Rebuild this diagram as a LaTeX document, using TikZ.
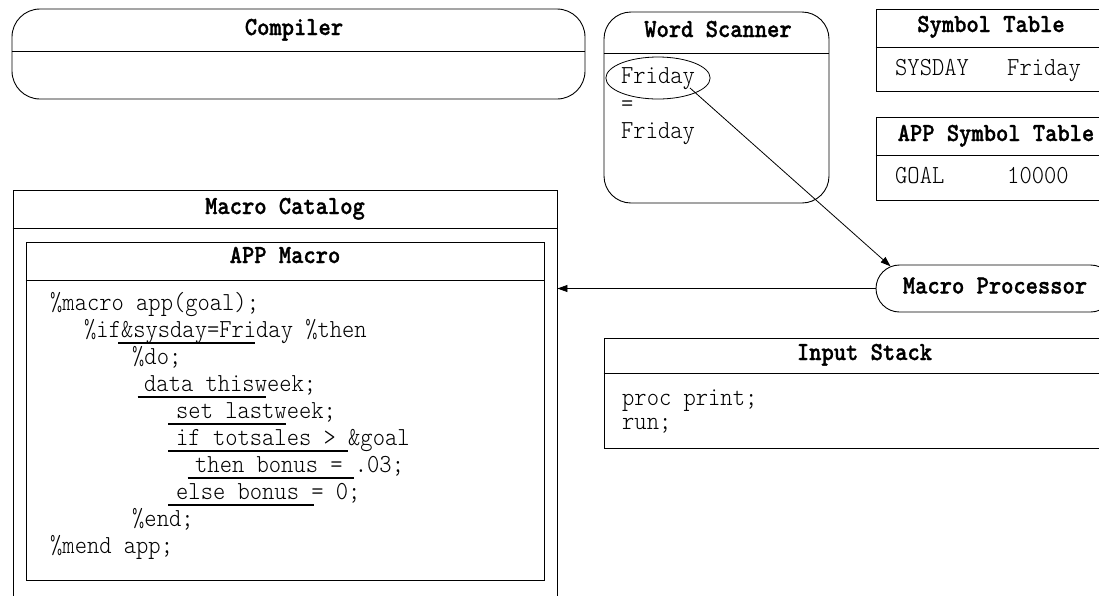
\documentclass[tikz,border=0pt]{standalone}
\usepackage{fontspec}
\usetikzlibrary{arrows.meta, shapes.geometric, shapes.misc}
\newfontfamily\codefont[FakeStretch = 0.9]{lmmonolt10-regular.otf}
\newfontfamily\headfont[FakeStretch = 0.9, FakeBold = 1.2]{lmmonolt10-bold.otf}

\begin{document}
\begin{tikzpicture}[
  x = 1pt, y = -1pt,
  panel/.style = {
    shape = rectangle,
    draw = black,
    line width = 0.9pt,
    inner sep = 0pt,
  },
  rpanel/.style = { panel, rounded corners = 27pt },
  boxtitle/.style = {
    font = \headfont\fontsize{26}{30}\selectfont,
    inner sep = 0pt,
    text height = 15pt,
    text depth = 5pt,
  },
  codeline/.style = {
    anchor = west,
    font = \codefont\fontsize{26}{30}\selectfont,
    inner sep = 0pt,
    text height = 15pt,
    text depth = 5pt,
  },
  underbar/.style = { line width = 1.8pt },
  flow/.style = { -{Triangle[length = 10pt, width = 7pt]}, line width = 0.8pt }
]
  \useasboundingbox (0, 0) rectangle (1099, 595);
  \clip (0, 0) rectangle (1099, 595);

  % compiler
  \node[rpanel, rounded corners = 28pt, minimum width = 573pt, minimum height = 90pt]
    (compiler) at (298.5, 54) {};
  \draw[line width = 0.9pt] (compiler.west |- 0, 51) -- (compiler.east |- 0, 51);
  \node[boxtitle] (compilertitle) at (294, 30) {Compiler};

  % word scanner
  \node[rpanel, minimum width = 225pt, minimum height = 191pt]
    (scanner) at (716.5, 107.5) {};
  \draw[line width = 0.9pt] (scanner.west |- 0, 53) -- (scanner.east |- 0, 53);
  \node[boxtitle] (scannertitle) at (718, 32) {Word Scanner};
  \node[codeline, anchor = center, shape = ellipse, draw = black, line width = 0.8pt,
        minimum width = 93pt, minimum height = 42pt] (fri) at (658, 78) {Friday};
  \node[codeline] (equals) at (621, 106) {=};
  \node[codeline] (fri2) at (621, 133) {Friday};

  % symbol tables
  \node[panel, minimum width = 230pt, minimum height = 82pt] (symtab) at (991, 50) {};
  \draw[line width = 0.9pt] (symtab.west |- 0, 47) -- (symtab.east |- 0, 47);
  \node[boxtitle] (symtabtitle) at (991, 27) {Symbol Table};
  \node[codeline] (sysday) at (895, 70) {SYSDAY};
  \node[codeline] (sysval) at (1007, 70) {Friday};

  \node[panel, minimum width = 240pt, minimum height = 83pt] (apptab) at (996, 158.5) {};
  \draw[line width = 0.9pt] (apptab.west |- 0, 155) -- (apptab.east |- 0, 155);
  \node[boxtitle] (apptabtitle) at (996, 136) {APP Symbol Table};
  \node[codeline] (goal) at (895, 178) {GOAL};
  \node[codeline] (goalval) at (1007, 178) {10000};

  % macro processor
  \node[boxtitle, shape = rounded rectangle, draw = black, line width = 0.9pt,
        minimum width = 238pt, minimum height = 47pt] (mp) at (995, 288.5) {Macro Processor};

  % input stack
  \node[panel, minimum width = 521pt, minimum height = 110pt] (stack) at (864.5, 393) {};
  \draw[line width = 0.9pt] (stack.west |- 0, 373) -- (stack.east |- 0, 373);
  \node[boxtitle] (stacktitle) at (864.5, 355) {Input Stack};
  \node[codeline] (proc) at (622, 400) {proc print;};
  \node[codeline] (run) at (622, 424) {run;};

  % macro catalog
  \node[panel, minimum width = 544pt, minimum height = 450pt] (catalog) at (285, 415) {};
  \draw[line width = 0.9pt] (catalog.west |- 0, 228) -- (catalog.east |- 0, 228);
  \node[boxtitle] (catalogtitle) at (285, 209) {Macro Catalog};

  \node[panel, minimum width = 518pt, minimum height = 338pt] (appmacro) at (285, 411) {};
  \draw[line width = 0.9pt] (appmacro.west |- 0, 280) -- (appmacro.east |- 0, 280);
  \node[boxtitle] (appmacrotitle) at (285, 258) {APP Macro};

  \node[codeline] (l1) at (50, 305) {\%macro app(goal);};
  \node[codeline] (l2) at (84, 332) {\%if\&sysday=Friday \%then};
  \node[codeline] (l3) at (132, 359) {\%do;};
  \node[codeline] (l4) at (144, 386) {data thisweek;};
  \node[codeline] (l5) at (176, 413) {set lastweek;};
  \node[codeline] (l6) at (176, 440) {if totsales > \&goal};
  \node[codeline] (l7) at (195, 467) {then bonus = .03;};
  \node[codeline] (l8) at (176, 494) {else bonus = 0;};
  \node[codeline] (l9) at (132, 521) {\%end;};
  \node[codeline] (l10) at (50, 548) {\%mend app;};

  \draw[underbar] (118, 343) -- (255, 343);
  \draw[underbar] (137.5, 397) -- (266, 397);
  \draw[underbar] (168, 424) -- (286, 424);
  \draw[underbar] (168, 451) -- (348, 451);
  \draw[underbar] (187.5, 478) -- (354, 478);
  \draw[underbar] (168, 505) -- (314, 505);

  % connectors
  \coordinate (tail) at (690, 88);
  \draw[flow] (tail) -- (mp.168);
  \draw[flow] (mp.west) -- (mp.west -| catalog.east);
\end{tikzpicture}
\end{document}
